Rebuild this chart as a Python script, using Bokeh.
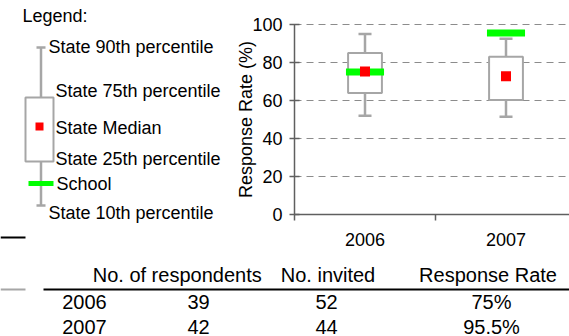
from bokeh.plotting import figure
from bokeh.models import Range1d, FixedTicker, ColumnDataSource
from bokeh.core.properties import value
from bokeh.embed import file_html
from bokeh.resources import INLINE

# ---------------- data ----------------
years = ["2006", "2007"]
state_p10 = [52, 51.5]
state_p25 = [64, 60.2]
state_median = [75.2, 72.8]
state_p75 = [85, 83]
state_p90 = [95, 92.5]
school_rate = [75, 95.5]

respondents = [39, 42]
invited = [52, 44]
rate_labels = ["75%", "95.5%"]
table_headers = ["No. of respondents", "No. invited", "Response Rate"]

y_ticks = [0, 20, 40, 60, 80, 100]
legend_title = "Legend:"
legend_labels = ["State 90th percentile", "State 75th percentile", "State Median",
                 "State 25th percentile", "School", "State 10th percentile"]

# ---------------- styles / layout ----------------
FONT = value("Liberation Sans")
GRAY = "#a6a6a6"
AXIS = "#5f5f5f"
GREEN = "#00ff00"
RED = "#ff0000"
W, H = 569, 336
ORIGIN_X, ORIGIN_Y = 294, 214      # pixel position of the chart origin
CAT_PX, PCT_PX = 141, 1.9          # pixels per category / per percent
X_END = (W - ORIGIN_X) / CAT_PX

positions = [i + 0.5 for i in range(len(years))]
src = ColumnDataSource(dict(x=positions, p10=state_p10, p25=state_p25, med=state_median,
                            p75=state_p75, p90=state_p90, school=school_rate))

p = figure(width=W, height=H,
           x_range=Range1d(-ORIGIN_X / CAT_PX, X_END),
           y_range=Range1d((ORIGIN_Y - H) / PCT_PX, ORIGIN_Y / PCT_PX),
           min_border=0, output_backend="svg", toolbar_location=None)
p.outline_line_color = None
p.grid.visible = False
p.extra_x_ranges = {"px": Range1d(0, W)}
p.extra_y_ranges = {"py": Range1d(H, 0)}

ya = p.yaxis[0]
ya.fixed_location = 0
ya.bounds = (y_ticks[0], y_ticks[-1])
ya.ticker = FixedTicker(ticks=y_ticks)
ya.major_tick_in = 5
ya.major_tick_out = 5
ya.minor_tick_in = 0
ya.minor_tick_out = 0
ya.major_label_standoff = 7
ya.axis_label = "Response Rate (%)"
ya.axis_label_standoff = -7
ya.axis_label_text_font_style = "normal"
ya.axis_label_text_font = "Liberation Sans"
ya.axis_label_text_font_size = "18px"
ya.axis_label_text_color = "black"

xa = p.xaxis[0]
xa.fixed_location = 0
xa.bounds = (0, X_END)
xa.ticker = FixedTicker(ticks=positions, minor_ticks=list(range(len(years) + 1)))
xa.major_label_overrides = {pos: yr for pos, yr in zip(positions, years)}
xa.major_tick_in = 0
xa.major_tick_out = 0
xa.minor_tick_in = 0
xa.minor_tick_out = 6
xa.major_label_standoff = 12

for ax in (xa, ya):
    ax.axis_line_color = AXIS
    ax.axis_line_width = 1.5
    ax.major_tick_line_color = AXIS
    ax.major_tick_line_width = 1.5
    ax.minor_tick_line_color = AXIS
    ax.minor_tick_line_width = 1.5
    ax.major_label_text_font = "Liberation Sans"
    ax.major_label_text_font_size = "18px"
    ax.major_label_text_color = "black"

# dashed horizontal gridlines at the y ticks, across the chart area
grid_y = y_ticks[1:]
p.segment(x0=[0] * len(grid_y), x1=[X_END] * len(grid_y), y0=grid_y, y1=grid_y,
          line_color="#8c8c8c", line_dash="7 5", line_width=1)

# box plot
p.segment(x0="x", y0="p10", x1="x", y1="p25", source=src, line_color=GRAY, line_width=2.5)
p.segment(x0="x", y0="p75", x1="x", y1="p90", source=src, line_color=GRAY, line_width=2.5)
p.scatter(x="x", y="p10", source=src, marker="dash", size=13, line_color=GRAY, line_width=2.5)
p.scatter(x="x", y="p90", source=src, marker="dash", size=13, line_color=GRAY, line_width=2.5)
p.vbar(x="x", width=0.24, bottom="p25", top="p75", source=src,
       fill_color="white", line_color=GRAY, line_width=2)
p.rect(x="x", y="school", width=0.27, height=7, height_units="screen", source=src,
       fill_color=GREEN, line_color=None)
p.scatter(x="x", y="med", source=src, marker="square", size=10, fill_color=RED, line_color=None)

PX = dict(x_range_name="px", y_range_name="py")


def seg(x0, y0, x1, y1, color, width):
    p.segment(x0=[x0], y0=[y0], x1=[x1], y1=[y1], line_color=color, line_width=width, **PX)


def txt(xs, ys, texts, size, align="left"):
    p.text(x=xs, y=ys, text=texts, text_font=FONT, text_font_size=size,
           text_baseline="middle", text_align=align, text_color="black", **PX)


# ---------------- legend drawing ----------------
lg = dict(wx=40.5, top=47, q75=97, q25=161, bot=205, cap=4.5, bl=25, br=53, mx=39, med=126,
          sl=28, sr=53, sy=183)
seg(lg["wx"], lg["top"], lg["wx"], lg["bot"], GRAY, 2.5)
seg(lg["wx"] - lg["cap"], lg["top"], lg["wx"] + lg["cap"], lg["top"], GRAY, 2.5)
seg(lg["wx"] - lg["cap"], lg["bot"], lg["wx"] + lg["cap"], lg["bot"], GRAY, 2.5)
p.quad(left=[lg["bl"]], right=[lg["br"]], top=[lg["q75"]], bottom=[lg["q25"]],
       fill_color="white", line_color=GRAY, line_width=2, **PX)
seg(lg["sl"], lg["sy"], lg["sr"], lg["sy"], GREEN, 5)
p.scatter(x=[lg["mx"]], y=[lg["med"]], marker="square", size=8, fill_color=RED,
          line_color=None, **PX)

txt([22], [15], [legend_title], "18px")
txt([48, 55, 55, 55, 56, 48], [46, 90, 127, 158, 183, 212], legend_labels, "18px")
seg(0, 237, 25, 237, "black", 2)

# ---------------- table drawing ----------------
head_x = [176.7, 327.5, 487.5]
col_x = [198, 326, 491]
row_y = [301, 326]
txt(head_x, [274] * 3, table_headers, "20px", "center")
txt([61.7] * len(years), row_y, years, "20px")
txt([col_x[0]] * 2, row_y, [str(v) for v in respondents], "20px", "center")
txt([col_x[1]] * 2, row_y, [str(v) for v in invited], "20px", "center")
txt([col_x[2]] * 2, row_y, rate_labels, "20px", "center")
seg(43, 289, W, 289, "black", 2)
seg(0, 289, 25, 289, GRAY, 2)

open("out.html", "w").write(file_html(p, INLINE))
